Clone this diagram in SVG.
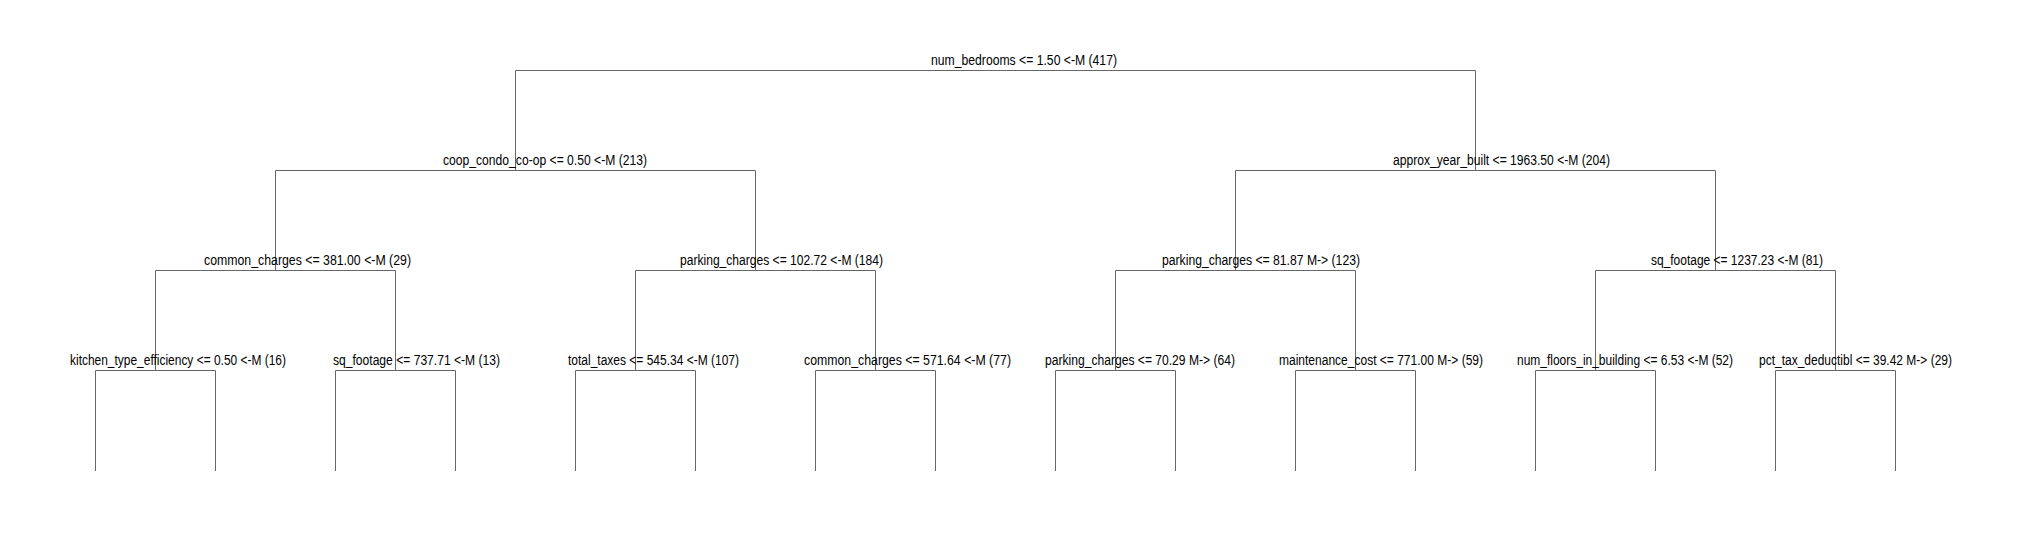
<svg xmlns="http://www.w3.org/2000/svg" width="2021" height="540" viewBox="0 0 2021 540">
<style>
.bg{fill:#ffffff}
.edge{fill:none;stroke:#666666;stroke-width:1}
.lbl{font-family:"Liberation Sans",Arial,sans-serif;font-size:14px;fill:#000000}
</style>
<rect class="bg" x="0" y="0" width="2021" height="540"/>
<g id="connectors">
<path class="edge" d="M515.5 170.5V70.5H1475.5V170.5"/>
<path class="edge" d="M275.5 270.5V170.5H755.5V270.5"/>
<path class="edge" d="M1235.5 270.5V170.5H1715.5V270.5"/>
<path class="edge" d="M155.5 370.5V270.5H395.5V370.5"/>
<path class="edge" d="M635.5 370.5V270.5H875.5V370.5"/>
<path class="edge" d="M1115.5 370.5V270.5H1355.5V370.5"/>
<path class="edge" d="M1595.5 370.5V270.5H1835.5V370.5"/>
<path class="edge" d="M95.5 471V370.5H215.5V471"/>
<path class="edge" d="M335.5 471V370.5H455.5V471"/>
<path class="edge" d="M575.5 471V370.5H695.5V471"/>
<path class="edge" d="M815.5 471V370.5H935.5V471"/>
<path class="edge" d="M1055.5 471V370.5H1175.5V471"/>
<path class="edge" d="M1295.5 471V370.5H1415.5V471"/>
<path class="edge" d="M1535.5 471V370.5H1655.5V471"/>
<path class="edge" d="M1775.5 471V370.5H1895.5V471"/>
</g>
<g id="node-root"><text class="lbl" x="931" y="65" textLength="186" lengthAdjust="spacingAndGlyphs">num_bedrooms &lt;= 1.50 &lt;-M (417)</text></g>
<g id="node-coop"><text class="lbl" x="443" y="165" textLength="204" lengthAdjust="spacingAndGlyphs">coop_condo_co-op &lt;= 0.50 &lt;-M (213)</text></g>
<g id="node-approx"><text class="lbl" x="1393" y="165" textLength="217" lengthAdjust="spacingAndGlyphs">approx_year_built &lt;= 1963.50 &lt;-M (204)</text></g>
<g id="node-common1"><text class="lbl" x="204" y="265" textLength="207" lengthAdjust="spacingAndGlyphs">common_charges &lt;= 381.00 &lt;-M (29)</text></g>
<g id="node-parking1"><text class="lbl" x="680" y="265" textLength="203" lengthAdjust="spacingAndGlyphs">parking_charges &lt;= 102.72 &lt;-M (184)</text></g>
<g id="node-parking2"><text class="lbl" x="1162" y="265" textLength="198" lengthAdjust="spacingAndGlyphs">parking_charges &lt;= 81.87 M-&gt; (123)</text></g>
<g id="node-sqft1"><text class="lbl" x="1651" y="265" textLength="172" lengthAdjust="spacingAndGlyphs">sq_footage &lt;= 1237.23 &lt;-M (81)</text></g>
<g id="node-kitchen"><text class="lbl" x="70" y="365" textLength="216" lengthAdjust="spacingAndGlyphs">kitchen_type_efficiency &lt;= 0.50 &lt;-M (16)</text></g>
<g id="node-sqft2"><text class="lbl" x="333" y="365" textLength="167" lengthAdjust="spacingAndGlyphs">sq_footage &lt;= 737.71 &lt;-M (13)</text></g>
<g id="node-taxes"><text class="lbl" x="568" y="365" textLength="171" lengthAdjust="spacingAndGlyphs">total_taxes &lt;= 545.34 &lt;-M (107)</text></g>
<g id="node-common2"><text class="lbl" x="804" y="365" textLength="207" lengthAdjust="spacingAndGlyphs">common_charges &lt;= 571.64 &lt;-M (77)</text></g>
<g id="node-parking3"><text class="lbl" x="1045" y="365" textLength="190" lengthAdjust="spacingAndGlyphs">parking_charges &lt;= 70.29 M-&gt; (64)</text></g>
<g id="node-maint"><text class="lbl" x="1279" y="365" textLength="204" lengthAdjust="spacingAndGlyphs">maintenance_cost &lt;= 771.00 M-&gt; (59)</text></g>
<g id="node-floors"><text class="lbl" x="1517" y="365" textLength="216" lengthAdjust="spacingAndGlyphs">num_floors_in_building &lt;= 6.53 &lt;-M (52)</text></g>
<g id="node-pct"><text class="lbl" x="1759" y="365" textLength="193" lengthAdjust="spacingAndGlyphs">pct_tax_deductibl &lt;= 39.42 M-&gt; (29)</text></g>
</svg>
